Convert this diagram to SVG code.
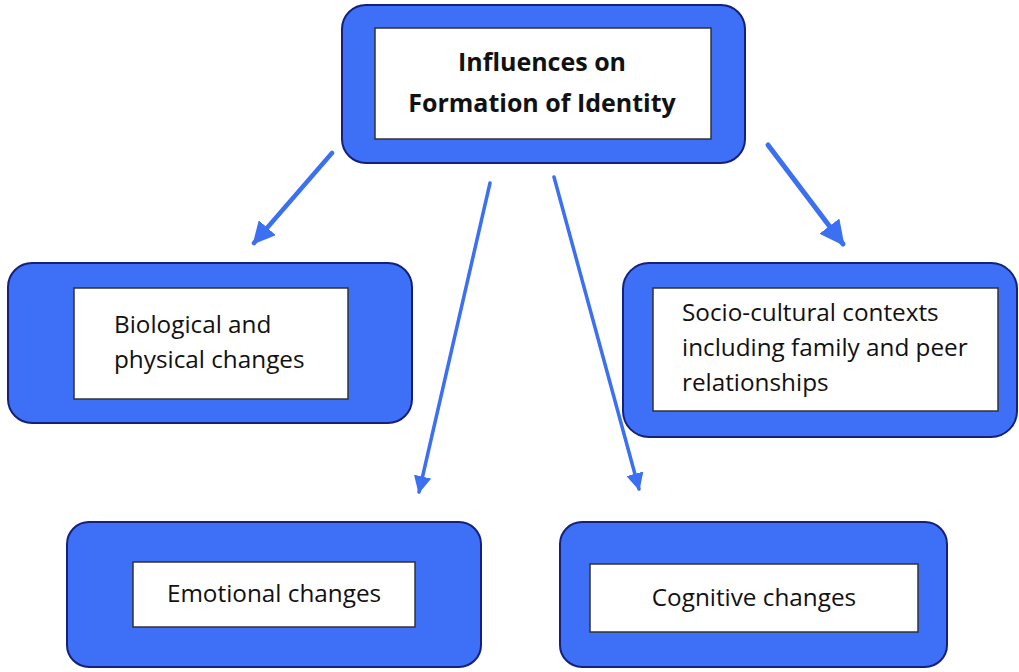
<svg xmlns="http://www.w3.org/2000/svg" width="1019" height="672" viewBox="0 0 1019 672">
<defs>
<style>
.outer{fill:#3D6FF7;stroke:#14207A;stroke-width:2}
.inner{fill:#fff;stroke:#333;stroke-width:1.5}
.t{font-family:"Open Sans","Liberation Sans",sans-serif;font-size:24.3px;fill:#111}
.tb{font-family:"Open Sans","Liberation Sans",sans-serif;font-size:25px;font-weight:bold;fill:#111}
.c{fill:none;stroke:#3B70F2;stroke-linecap:round}
</style>
<marker id="ah" viewBox="0 0 10 10" refX="9" refY="5" markerWidth="5" markerHeight="5" markerUnits="strokeWidth" orient="auto">
<path d="M0,0 L10,5 L0,10 z" fill="#3B70F2"/>
</marker>
</defs>
<rect width="1019" height="672" fill="#fff"/>
<g id="connectors">
<line class="c" x1="332" y1="153" x2="254" y2="243" stroke-width="4.5" marker-end="url(#ah)"/>
<line class="c" x1="490" y1="183" x2="419" y2="492" stroke-width="3.5" marker-end="url(#ah)"/>
<line class="c" x1="554" y1="177" x2="639" y2="489" stroke-width="3.5" marker-end="url(#ah)"/>
<line class="c" x1="768" y1="145" x2="843" y2="244" stroke-width="5" marker-end="url(#ah)"/>
</g>
<g id="node-top">
<rect class="outer" x="342" y="5" width="403" height="158" rx="24"/>
<rect class="inner" x="375" y="28" width="336" height="111"/>
<text class="tb" x="542" y="71" text-anchor="middle">Influences on</text>
<text class="tb" x="542" y="112" text-anchor="middle">Formation of Identity</text>
</g>
<g id="node-bio">
<rect class="outer" x="8" y="263" width="404" height="160" rx="24"/>
<rect class="inner" x="74" y="288" width="274" height="111"/>
<text class="t" x="114" y="333">Biological and</text>
<text class="t" x="114" y="368">physical changes</text>
</g>
<g id="node-socio">
<rect class="outer" x="623" y="263" width="394" height="174" rx="26"/>
<rect class="inner" x="653" y="288" width="345" height="123"/>
<text class="t" x="682" y="321">Socio-cultural contexts</text>
<text class="t" x="682" y="356">including family and peer</text>
<text class="t" x="682" y="391">relationships</text>
</g>
<g id="node-emotional">
<rect class="outer" x="67" y="522" width="414" height="145" rx="22"/>
<rect class="inner" x="133" y="562" width="282" height="65"/>
<text class="t" x="274" y="602" text-anchor="middle">Emotional changes</text>
</g>
<g id="node-cognitive">
<rect class="outer" x="560" y="522" width="387" height="145" rx="22"/>
<rect class="inner" x="590" y="564" width="328" height="68"/>
<text class="t" x="754" y="606" text-anchor="middle">Cognitive changes</text>
</g>
</svg>
